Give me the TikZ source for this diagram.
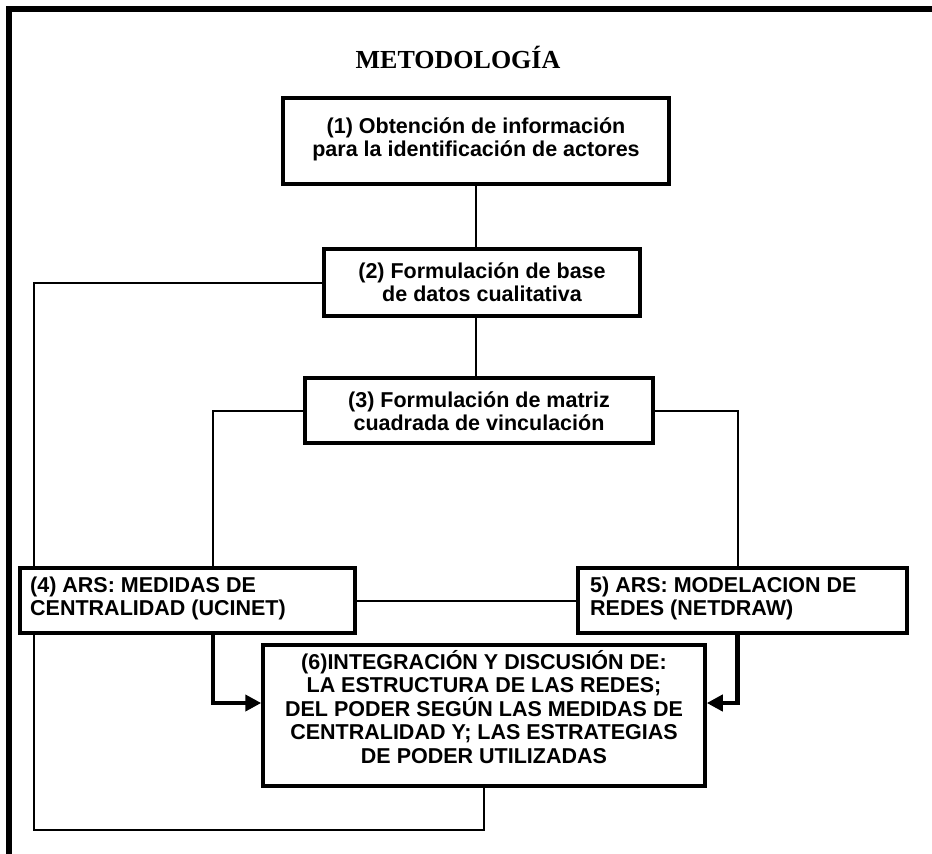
\documentclass[tikz,border=0pt]{standalone}
\usepackage{fontspec}
\setmainfont{Liberation Serif}
\newfontfamily\arialfont{Liberation Sans}
\usetikzlibrary{arrows.meta}
\pgfdeclarelayer{bg}
\pgfsetlayers{bg,main}
\begin{document}
\begin{tikzpicture}[x=1pt,y=-1pt,
  box/.style={draw, fill=white, rectangle, line width=3.5pt, inner sep=0pt},
  txt/.style={inner sep=0pt, anchor=base, align=center,
    font=\arialfont\bfseries\fontsize{21.5}{23.5}\selectfont},
  txtl/.style={txt, anchor=base west, align=left},
  conn/.style={line width=2pt},
  thickarrow/.style={line width=4.5pt, -{Triangle[length=16pt,width=16pt]}},
  frame/.style={line width=5.5pt},
  titlestyle/.style={inner sep=0pt, anchor=base, font=\bfseries\fontsize{26}{30}\selectfont}]
\useasboundingbox (0,0) rectangle (932,854);
% frame (top and left edges)
\coordinate (fr1) at (940,9);
\coordinate (fr2) at (9,9);
\coordinate (fr3) at (9,860);
\draw[frame] (fr1) -- (fr2) -- (fr3);
% title
\node[titlestyle] (title) at (458,68) {METODOLOGÍA};
% boxes
\node[box, minimum width=386pt, minimum height=86pt] (b1) at (476,141) {};
\node[box, minimum width=316pt, minimum height=67pt] (b2) at (482,282.5) {};
\node[box, minimum width=348pt, minimum height=65pt] (b3) at (479,410.5) {};
\node[box, minimum width=335pt, minimum height=65pt] (b4) at (187.5,600.5) {};
\node[box, minimum width=329pt, minimum height=65pt] (b5) at (742.5,600.5) {};
\node[box, minimum width=442pt, minimum height=141pt] (b6) at (484,715.5) {};
% texts (anchor = baseline of last line)
\node[txt] (t1) at (476,156.5) {(1) Obtención de información\\para la identificación de actores};
\node[txt] (t2) at (482,301.5) {(2) Formulación de base\\de datos cualitativa};
\node[txt] (t3) at (479,430.5) {(3) Formulación de matriz\\cuadrada de vinculación};
\node[txtl] (t4) at (30,615.5) {(4) ARS: MEDIDAS DE\\CENTRALIDAD (UCINET)};
\node[txtl] (t5) at (590,615.5) {5) ARS: MODELACION DE\\REDES (NETDRAW)};
\node[txt] (t6) at (484,763) {(6)INTEGRACIÓN Y DISCUSIÓN DE:\\LA ESTRUCTURA DE LAS REDES;\\DEL PODER SEGÚN LAS MEDIDAS DE\\CENTRALIDAD Y; LAS ESTRATEGIAS\\DE PODER UTILIZADAS};
% connectors (behind the boxes)
\begin{pgfonlayer}{bg}
\draw[conn] (b1.south) -- (b1.south |- b2.north);
\draw[conn] (b1.south |- b2.south) -- (b1.south |- b3.north);
\draw[conn] (b3.west) -| ([xshift=25.5pt]b4.north);
\draw[conn] (b3.east) -| ([xshift=-5pt]b5.north);
\draw[conn] (b4.east) -- (b5.west);
\coordinate (fb) at (34,830);
\draw[conn] (b2.west) -| (fb) -| (b6.south);
\end{pgfonlayer}
% thick arrows
\draw[thickarrow] ([xshift=25.5pt]b4.south) |- ([yshift=12.5pt]b6.west);
\draw[thickarrow] ([xshift=-5pt]b5.south) |- ([yshift=12.5pt]b6.east);
\end{tikzpicture}
\end{document}
